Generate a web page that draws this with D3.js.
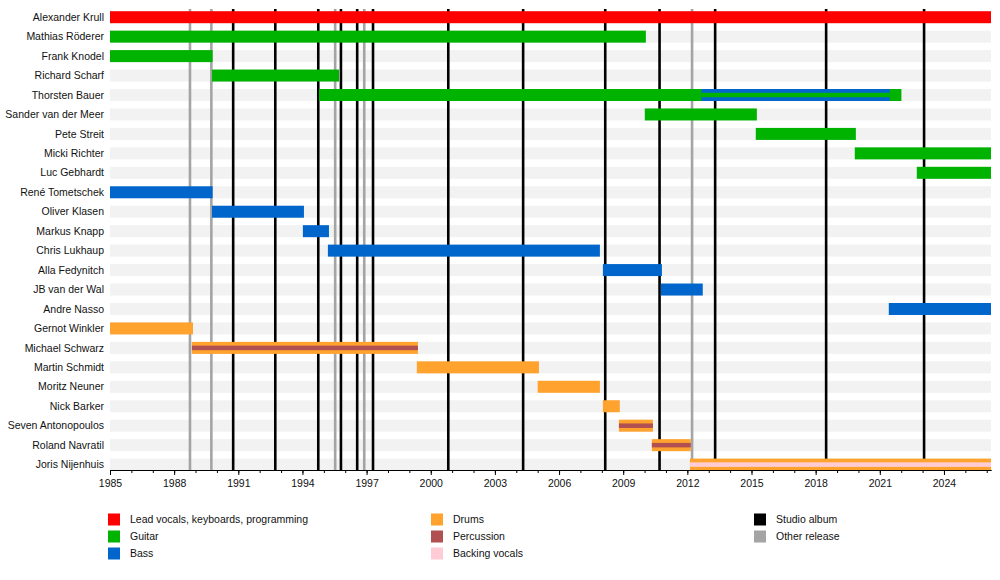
<!DOCTYPE html>
<html>
<head>
<meta charset="utf-8">
<script src="https://cdn.jsdelivr.net/npm/d3@7"></script>
<style>
  body { margin: 0; background: #fff; }
  svg text { font-family: "Liberation Sans", Arial, sans-serif; fill: #111; }
</style>
</head>
<body>
<div id="chart"></div>
<script>
// Band members, top to bottom
const members = [
  'Alexander Krull', 'Mathias Röderer', 'Frank Knodel', 'Richard Scharf',
  'Thorsten Bauer', 'Sander van der Meer', 'Pete Streit', 'Micki Richter',
  'Luc Gebhardt', 'René Tometschek', 'Oliver Klasen', 'Markus Knapp',
  'Chris Lukhaup', 'Alla Fedynitch', 'JB van der Wal', 'Andre Nasso',
  'Gernot Winkler', 'Michael Schwarz', 'Martin Schmidt', 'Moritz Neuner',
  'Nick Barker', 'Seven Antonopoulos', 'Roland Navratil', 'Joris Nijenhuis'
];

const NOW = 2026.2;

// Full-height bars: [member, role, from, to]
const mainBars = [
  ['Alexander Krull', 'vocals', 1985, NOW],
  ['Mathias Röderer', 'guitar', 1985, 2010.06],
  ['Frank Knodel', 'guitar', 1985, 1989.8],
  ['Richard Scharf', 'guitar', 1989.77, 1995.71],
  ['Thorsten Bauer', 'guitar', 1994.77, 2022.01],
  ['Thorsten Bauer', 'bass', 2012.66, 2021.47],
  ['Sander van der Meer', 'guitar', 2010.01, 2015.25],
  ['Pete Streit', 'guitar', 2015.2, 2019.88],
  ['Micki Richter', 'guitar', 2019.83, NOW],
  ['Luc Gebhardt', 'guitar', 2022.73, NOW],
  ['René Tometschek', 'bass', 1985, 1989.8],
  ['Oliver Klasen', 'bass', 1989.77, 1994.07],
  ['Markus Knapp', 'bass', 1994.02, 1995.24],
  ['Chris Lukhaup', 'bass', 1995.19, 2007.91],
  ['Alla Fedynitch', 'bass', 2008.05, 2010.81],
  ['JB van der Wal', 'bass', 2010.76, 2012.72],
  ['Andre Nasso', 'bass', 2021.42, NOW],
  ['Gernot Winkler', 'drums', 1985, 1988.88],
  ['Michael Schwarz', 'drums', 1988.83, 1999.4],
  ['Martin Schmidt', 'drums', 1999.35, 2005.06],
  ['Moritz Neuner', 'drums', 2005.0, 2007.91],
  ['Nick Barker', 'drums', 2008.05, 2008.84],
  ['Seven Antonopoulos', 'drums', 2008.8, 2010.39],
  ['Roland Navratil', 'drums', 2010.34, 2012.16],
  ['Joris Nijenhuis', 'drums', 2012.12, NOW]
];

// Thin bars drawn on top: [member, role, from, to]
const thinBars = [
  ['Thorsten Bauer', 'guitar', 2012.66, 2021.47],
  ['Michael Schwarz', 'percussion', 1988.83, 1999.4],
  ['Seven Antonopoulos', 'percussion', 2008.8, 2010.39],
  ['Roland Navratil', 'percussion', 2010.34, 2012.16],
  ['Joris Nijenhuis', 'backing', 2012.12, NOW]
];

const studioAlbums = [1990.76, 1992.73, 1994.74, 1995.8, 1996.56, 1997.3, 2000.82,
  2004.32, 2008.16, 2010.7, 2013.3, 2018.49, 2023.07];
const otherReleases = [1988.74, 1989.74, 1995.53, 1996.89, 2012.22];

const roleColors = {
  vocals: '#ff0000',
  guitar: '#00b300',
  bass: '#0066cc',
  drums: '#ffa22e',
  percussion: '#b05050',
  backing: '#ffccd5',
  studio: '#000000',
  other: '#a4a4a4'
};

const legendItems = [
  ['vocals', 'Lead vocals, keyboards, programming'],
  ['guitar', 'Guitar'],
  ['bass', 'Bass'],
  ['drums', 'Drums'],
  ['percussion', 'Percussion'],
  ['backing', 'Backing vocals'],
  ['studio', 'Studio album'],
  ['other', 'Other release']
];

const width = 1000, height = 580;
const left = 110, right = 991, plotTop = 9, plotBottom = 470;

const svg = d3.select('#chart').append('svg')
  .attr('width', width)
  .attr('height', height);

const x = d3.scaleLinear().domain([1985, NOW]).range([left, right]);
const y = d3.scalePoint().domain(members).range([17.2, 464.6]);
const barH = 12, thinH = 4.5;

// Row background stripes
svg.append('g').selectAll('rect')
  .data(members)
  .enter().append('rect')
  .attr('x', left)
  .attr('width', right - left)
  .attr('y', d => y(d) - barH / 2)
  .attr('height', barH)
  .style('fill', '#f2f2f2');

// Release lines
const releases = otherReleases.map(d => ({ t: d, kind: 'other' }))
  .concat(studioAlbums.map(d => ({ t: d, kind: 'studio' })));
svg.append('g').selectAll('line')
  .data(releases)
  .enter().append('line')
  .attr('x1', d => x(d.t))
  .attr('x2', d => x(d.t))
  .attr('y1', plotTop)
  .attr('y2', plotBottom)
  .style('stroke', d => roleColors[d.kind])
  .style('stroke-width', 2.6);

// Bars
svg.append('g').selectAll('rect')
  .data(mainBars)
  .enter().append('rect')
  .attr('x', d => x(d[2]))
  .attr('width', d => x(d[3]) - x(d[2]))
  .attr('y', d => y(d[0]) - barH / 2)
  .attr('height', barH)
  .style('fill', d => roleColors[d[1]]);

svg.append('g').selectAll('rect')
  .data(thinBars)
  .enter().append('rect')
  .attr('x', d => x(d[2]))
  .attr('width', d => x(d[3]) - x(d[2]))
  .attr('y', d => y(d[0]) - thinH / 2)
  .attr('height', thinH)
  .style('fill', d => roleColors[d[1]]);

// Member labels
svg.append('g').selectAll('text')
  .data(members)
  .enter().append('text')
  .attr('x', 104)
  .attr('y', d => y(d))
  .attr('dy', '0.35em')
  .style('text-anchor', 'end')
  .style('font-size', '10.5px')
  .text(d => d);

// Axis: minor ticks every year, labels every 3 years
const minorAxis = d3.axisBottom(x)
  .tickValues(d3.range(1985, 2027))
  .tickSize(3)
  .tickSizeOuter(0)
  .tickFormat('');
svg.append('g')
  .attr('transform', `translate(0,${plotBottom})`)
  .call(minorAxis);

const majorAxis = d3.axisBottom(x)
  .tickValues(d3.range(1985, 2027, 3))
  .tickSize(5)
  .tickSizeOuter(0)
  .tickPadding(5)
  .tickFormat(d => d);
const axisG = svg.append('g')
  .attr('transform', `translate(0,${plotBottom})`)
  .call(majorAxis);
axisG.selectAll('text')
  .style('font-size', '10.5px')
  .style('font-family', '"Liberation Sans", Arial, sans-serif')
  .style('fill', '#111');

// Legend
const legend = svg.append('g');
const legendCols = [108, 431, 754];
legend.selectAll('g')
  .data(legendItems)
  .enter().append('g')
  .attr('transform', (d, i) => {
    const col = i < 3 ? 0 : (i < 6 ? 1 : 2);
    const row = i < 3 ? i : (i < 6 ? i - 3 : i - 6);
    return `translate(${legendCols[col]},${519.5 + row * 17})`;
  })
  .each(function (d) {
    const g = d3.select(this);
    g.append('rect')
      .attr('x', 0)
      .attr('y', -6)
      .attr('width', 12)
      .attr('height', 12)
      .style('fill', roleColors[d[0]]);
    g.append('text')
      .attr('x', 22)
      .attr('dy', '0.35em')
      .style('font-size', '10.5px')
      .text(d[1]);
  });
</script>
</body>
</html>
